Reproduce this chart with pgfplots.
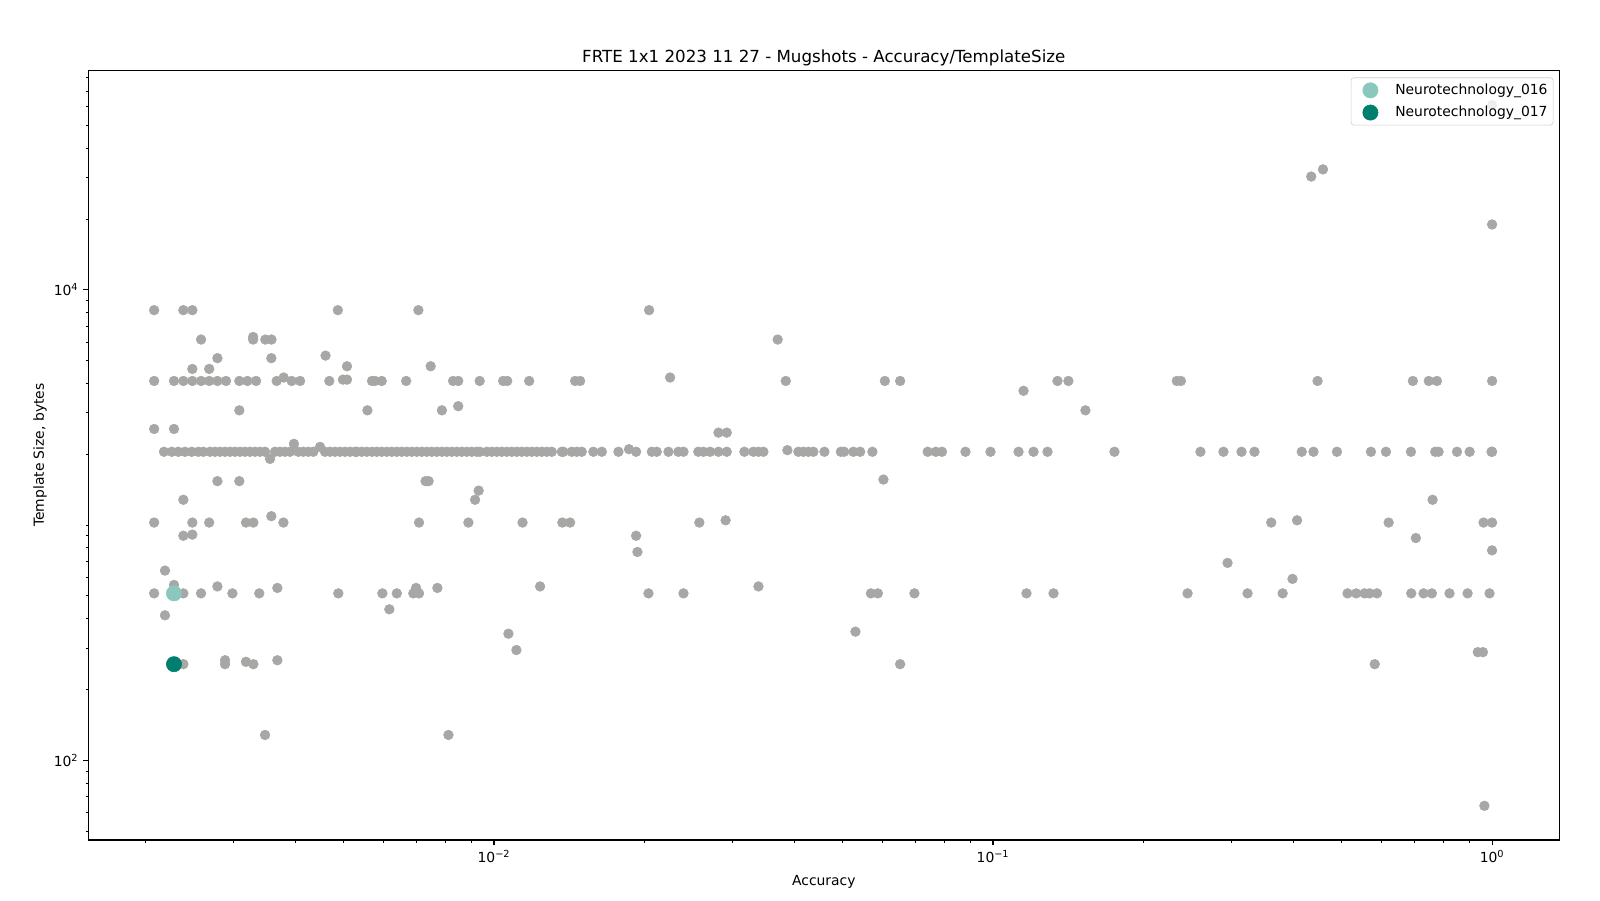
\documentclass[border=0pt]{standalone}
\usepackage{fontspec}
\setmainfont{DejaVu Sans}
\usepackage{pgfplots}
\pgfplotsset{compat=1.18}
\definecolor{ptgray}{RGB}{167,168,166}
\definecolor{tealA}{RGB}{138,200,189}
\definecolor{tealB}{RGB}{0,127,110}
\begin{document}
\begin{tikzpicture}
\begin{axis}[
  scale only axis, width=1059.1pt, height=554.2pt,
  xmode=log, ymode=log,
  xmin=0.001539, xmax=1.3637, ymin=45.78, ymax=85760,
  axis line style={line width=0.8pt},
  every tick/.style={black, line width=0.8pt},
  minor tick style={line width=0.6pt},
  tick align=outside, tick pos=left,
  major tick length=3.5pt, minor tick length=2pt,
  xtick={0.01,0.1,1},
  xticklabels={10\textsuperscript{−2},10\textsuperscript{−1},10\textsuperscript{0}},
  minor xtick={0.002,0.003,0.004,0.005,0.006,0.007,0.008,0.009,0.02,0.03,0.04,0.05,0.06,0.07,0.08,0.09,0.2,0.3,0.4,0.5,0.6,0.7,0.8,0.9},
  ytick={100,10000},
  yticklabels={10\textsuperscript{2},10\textsuperscript{4}},
  minor ytick={50,60,70,80,90,200,300,400,500,600,700,800,900,1000,2000,3000,4000,5000,6000,7000,8000,9000,20000,30000,40000,50000,60000,70000,80000},
  ticklabel style={font=\fontsize{10}{12}\selectfont},
  xticklabel style={inner sep=0pt, yshift=-3.5pt},
  yticklabel style={inner sep=0pt, xshift=-3.5pt},
  every axis title shift=0pt,
  title={FRTE 1x1 2023 11 27 - Mugshots - Accuracy/TemplateSize},
  title style={font=\fontsize{12}{14}\selectfont, at={(axis description cs:0.5,1.009924)}, anchor=base, inner sep=0pt},
  xlabel={Accuracy},
  xlabel style={font=\fontsize{10}{12}\selectfont, at={(axis description cs:0.5,-0.05864)}, anchor=base, inner sep=0pt},
  ylabel={Template Size, bytes},
  ylabel style={font=\fontsize{10}{12}\selectfont, at={(axis description cs:-0.030214,0.5)}, anchor=base, inner sep=0pt},
  legend style={at={(axis description cs:1,1)}, anchor=north east, xshift=-4.3pt, yshift=-5.2pt,
    draw=black!20, rounded corners=2pt, fill=white, fill opacity=0.8, text opacity=1, draw opacity=1,
    font=\fontsize{10}{12}\selectfont, inner xsep=0pt, inner ysep=3pt, row sep=3.9pt,
    nodes={inner xsep=4pt, inner ysep=1.5pt}, cells={anchor=west}},
  legend image code/.code={\path (-3.7pt,-5pt) (23.7pt,5pt); \draw[#1, fill opacity=1, draw opacity=1] plot coordinates {(10pt,0pt)};},
]
\addplot[only marks, mark=*, mark size=3.5pt, color=ptgray, forget plot] coordinates {
(0.002085,8192)(0.002386,8192)(0.002487,8192)(0.004866,8192)(0.007057,8192)(0.020458,8192)
(0.002589,6144)(0.003292,6300)(0.003292,6144)(0.003483,6144)(0.003583,6144)(0.037028,6144)
(0.002792,5120)(0.003581,5120)(0.004598,5250)(0.005076,4730)(0.007469,4730)
(0.002487,4608)(0.002688,4608)(0.022540,4236)(0.003791,4236)
(0.002085,4096)(0.002285,4096)(0.002386,4096)(0.002487,4096)(0.002589,4096)(0.002688,4096)
(0.002792,4096)(0.002905,4096)(0.003089,4096)(0.003206,4096)(0.003337,4096)(0.003670,4096)
(0.003933,4096)(0.004088,4096)(0.004679,4096)(0.004982,4150)(0.005076,4150)(0.005697,4096)
(0.005778,4096)(0.005958,4096)(0.006670,4096)(0.008282,4096)(0.008481,4096)(0.009362,4096)
(0.010433,4096)(0.010631,4096)(0.011764,4096)(0.014541,4096)(0.014880,4096)(0.038441,4096)
(0.060717,4096)(0.065153,4096)(0.13466,4096)(0.14161,4096)(0.23352,4096)(0.23795,4096)
(0.44700,4096)(0.69395,4096)(0.74685,4096)(0.77553,4096)(1.0,4096)
(0.11512,3720)(0.008481,3200)(0.003089,3072)(0.005578,3072)(0.007866,3072)(0.15318,3072)
(0.002085,2560)(0.002285,2560)(0.028177,2470)(0.029272,2470)(0.003974,2213)(0.004483,2148)
(0.018651,2100)(0.038731,2080)(0.003559,1910)(0.060318,1560)
(0.002792,1536)(0.003089,1536)(0.007295,1536)(0.007398,1536)(0.009318,1400)
(0.002386,1280)(0.009166,1280)(0.76001,1280)(0.003581,1090)(0.029121,1047)(0.40673,1047)
(0.002085,1024)(0.002487,1024)(0.002688,1024)(0.003185,1024)(0.003296,1024)(0.003786,1024)
(0.007078,1024)(0.008888,1024)(0.011410,1024)(0.013710,1024)(0.014209,1024)(0.025798,1024)
(0.36099,1024)(0.62046,1024)(0.96133,1024)(1.0,1024)
(0.002487,910)(0.002386,900)(0.019271,900)(0.70349,880)(1.0,780)(0.019390,768)(0.29508,690)
(0.002192,640)(0.39829,590)(0.002285,556)(0.002792,548)(0.012372,548)(0.033889,548)
(0.003682,540)(0.006982,540)(0.007704,540)
(0.002085,512)(0.002386,512)(0.002589,512)(0.002992,512)(0.003387,512)(0.004877,512)
(0.005977,512)(0.006388,512)(0.006894,512)(0.007078,512)(0.020400,512)(0.023975,512)
(0.056926,512)(0.058779,512)(0.069593,512)(0.11669,512)(0.13221,512)(0.24536,512)
(0.32360,512)(0.38050,512)(0.51334,512)(0.53434,512)(0.55515,512)(0.56836,512)(0.58800,512)
(0.68874,512)(0.72909,512)(0.75750,512)(0.82177,512)(0.89313,512)(0.98850,512)
(0.006172,438)(0.002192,413)(0.053008,352)(0.010691,345)(0.011092,294)(0.93623,288)(0.95864,288)
(0.002892,266)(0.003682,266)(0.003185,262)
(0.002386,256)(0.002892,256)(0.003296,256)(0.065153,256)(0.58193,256)
(0.003478,128)(0.008106,128)(0.96518,64)
(0.45831,32500)(0.43415,30300)(1.0,18950)(1.0,61000)
(0.002182,2048)(0.002262,2048)(0.002331,2048)(0.002404,2048)(0.002480,2048)(0.002557,2048)
(0.002616,2048)(0.002698,2048)(0.002761,2048)(0.002826,2048)(0.002892,2048)(0.002959,2048)
(0.003028,2048)(0.003099,2048)(0.003171,2048)(0.003245,2048)(0.003321,2048)(0.003399,2048)
(0.003478,2048)(0.003642,2048)(0.003727,2048)(0.003814,2048)(0.003903,2048)(0.004055,2048)
(0.004150,2048)(0.004247,2048)(0.004346,2048)(0.004587,2048)(0.004695,2048)(0.004804,2048)
(0.004916,2048)(0.005031,2048)(0.005148,2048)(0.005269,2048)
(0.005311,2048)(0.005435,2048)(0.005562,2048)(0.005697,2048)(0.005825,2048)(0.005958,2048)
(0.006100,2048)(0.006242,2048)(0.006388,2048)(0.006537,2048)(0.006689,2048)(0.006846,2048)
(0.007005,2048)(0.007169,2048)(0.007336,2048)(0.007507,2048)(0.007683,2048)(0.007866,2048)
(0.008045,2048)(0.008233,2048)(0.008425,2048)(0.008622,2048)(0.008823,2048)(0.009029,2048)
(0.009240,2048)(0.009371,2048)(0.009677,2048)(0.009902,2048)(0.010133,2048)(0.010369,2048)
(0.010611,2048)(0.010859,2048)(0.011113,2048)(0.011372,2048)(0.011638,2048)(0.011908,2048)
(0.012185,2048)(0.012471,2048)(0.012763,2048)(0.013060,2048)(0.013677,2048)
(0.013775,2048)(0.014317,2048)(0.014658,2048)(0.014993,2048)(0.015821,2048)(0.016450,2048)
(0.017762,2048)(0.019271,2048)(0.020720,2048)(0.021194,2048)(0.022371,2048)(0.023418,2048)
(0.023975,2048)(0.025676,2048)(0.026281,2048)(0.027106,2048)(0.028177,2048)(0.029272,2048)
(0.031757,2048)(0.033103,2048)(0.033889,2048)(0.034665,2048)(0.040740,2048)(0.041690,2048)
(0.042664,2048)(0.043660,2048)(0.045940,2048)(0.049557,2048)(0.050310,2048)(0.052511,2048)
(0.054171,2048)(0.057330,2048)
(0.073983,2048)(0.076826,2048)(0.079022,2048)(0.088071,2048)(0.098850,2048)(0.11250,2048)
(0.12054,2048)(0.12859,2048)(0.17513,2048)(0.26041,2048)(0.28958,2048)(0.31475,2048)
(0.33416,2048)(0.41556,2048)(0.43867,2048)(0.48884,2048)(0.57185,2048)(0.61291,2048)
(0.68776,2048)(0.76934,2048)(0.78139,2048)(0.85052,2048)(0.90160,2048)(0.9975,2048)(1.0,2048)
};
\addplot[only marks, mark=*, mark size=5.5pt, color=tealA] coordinates {(0.002285,512)};
\addlegendentry{Neurotechnology\_016}
\addplot[only marks, mark=*, mark size=5.5pt, color=tealB] coordinates {(0.002285,256)};
\addlegendentry{Neurotechnology\_017}
\end{axis}
\path (current axis.south west) ++(-63.6pt,-43.2pt);
\path (current axis.north east) ++(29.3pt,50.6pt);
\end{tikzpicture}
\end{document}
